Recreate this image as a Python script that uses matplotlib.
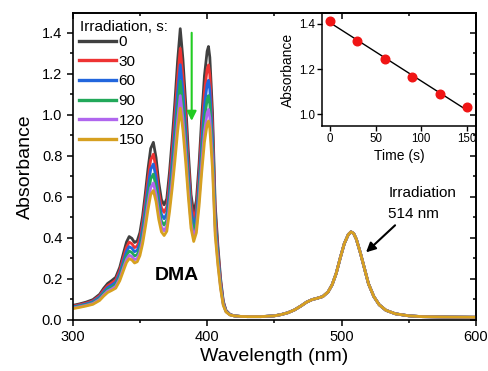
import numpy as np
import matplotlib
matplotlib.use('Agg')
import matplotlib.pyplot as plt
from matplotlib.ticker import MultipleLocator

plt.rcParams['font.family'] = ['Liberation Sans', 'DejaVu Sans']

# ---------------- data ----------------
# DMA band region (varies with irradiation time)
wl_dma = [300, 305, 310, 315, 320, 323, 326, 329, 332, 335, 338, 340, 342, 344, 346,
          348, 350, 352, 354, 356, 358, 360, 362, 364, 366, 368, 370, 372, 374, 376,
          378, 380, 382, 384, 386, 388, 390, 392, 394, 396, 398, 400, 401, 402, 404,
          406, 408, 410, 412, 414, 417, 420]

abs_0s = [0.069, 0.076, 0.085, 0.097, 0.123, 0.152, 0.176, 0.190, 0.206, 0.255, 0.330,
          0.378, 0.405, 0.396, 0.376, 0.384, 0.425, 0.505, 0.615, 0.735, 0.835, 0.865,
          0.790, 0.670, 0.585, 0.560, 0.590, 0.720, 0.880, 1.060, 1.260, 1.420, 1.270,
          1.060, 0.820, 0.610, 0.520, 0.580, 0.760, 0.990, 1.190, 1.310, 1.333, 1.280,
          1.010, 0.560, 0.360, 0.200, 0.090, 0.045, 0.025, 0.018]
abs_30s = [0.065, 0.072, 0.080, 0.091, 0.116, 0.143, 0.165, 0.178, 0.193, 0.239, 0.309,
           0.353, 0.378, 0.370, 0.351, 0.359, 0.397, 0.472, 0.574, 0.686, 0.779, 0.807,
           0.737, 0.625, 0.546, 0.523, 0.551, 0.672, 0.821, 0.989, 1.175, 1.324, 1.185,
           0.989, 0.765, 0.570, 0.486, 0.542, 0.709, 0.924, 1.110, 1.222, 1.243, 1.194,
           0.942, 0.523, 0.337, 0.187, 0.085, 0.043, 0.024, 0.018]
abs_60s = [0.062, 0.068, 0.076, 0.087, 0.110, 0.135, 0.156, 0.168, 0.182, 0.225, 0.291,
           0.333, 0.356, 0.348, 0.331, 0.338, 0.374, 0.444, 0.540, 0.645, 0.733, 0.759,
           0.693, 0.588, 0.514, 0.492, 0.518, 0.632, 0.772, 0.929, 1.104, 1.244, 1.113,
           0.929, 0.719, 0.536, 0.457, 0.509, 0.667, 0.868, 1.043, 1.148, 1.168, 1.122,
           0.886, 0.492, 0.317, 0.177, 0.081, 0.041, 0.024, 0.018]
abs_90s = [0.059, 0.065, 0.072, 0.082, 0.103, 0.127, 0.147, 0.158, 0.171, 0.211, 0.273,
           0.312, 0.334, 0.327, 0.310, 0.317, 0.350, 0.416, 0.506, 0.604, 0.686, 0.710,
           0.649, 0.551, 0.481, 0.461, 0.485, 0.592, 0.723, 0.870, 1.033, 1.164, 1.042,
           0.870, 0.674, 0.502, 0.428, 0.477, 0.624, 0.813, 0.976, 1.074, 1.093, 1.050,
           0.829, 0.461, 0.297, 0.166, 0.076, 0.040, 0.023, 0.018]
abs_120s = [0.056, 0.062, 0.069, 0.078, 0.098, 0.120, 0.139, 0.149, 0.162, 0.199, 0.257,
            0.293, 0.314, 0.307, 0.292, 0.298, 0.329, 0.391, 0.475, 0.567, 0.644, 0.667,
            0.609, 0.517, 0.452, 0.433, 0.456, 0.556, 0.678, 0.816, 0.970, 1.093, 0.978,
            0.816, 0.632, 0.471, 0.402, 0.448, 0.586, 0.763, 0.916, 1.008, 1.026, 0.985,
            0.778, 0.433, 0.280, 0.157, 0.073, 0.038, 0.023, 0.018]
abs_150s = [0.053, 0.059, 0.066, 0.074, 0.093, 0.114, 0.132, 0.142, 0.153, 0.189, 0.243,
            0.278, 0.297, 0.291, 0.276, 0.282, 0.312, 0.370, 0.449, 0.536, 0.609, 0.630,
            0.576, 0.489, 0.428, 0.410, 0.431, 0.525, 0.641, 0.772, 0.916, 1.032, 0.924,
            0.772, 0.598, 0.446, 0.381, 0.424, 0.554, 0.721, 0.866, 0.953, 0.969, 0.931,
            0.735, 0.410, 0.265, 0.149, 0.069, 0.037, 0.022, 0.018]

# photosensitizer band region (unchanged by irradiation)
wl_tail = [425, 430, 440, 450, 455, 460, 465, 470, 474, 478, 482, 486, 490, 493, 496,
           499, 502, 505, 507, 509, 511, 514, 517, 520, 524, 528, 533, 540, 550, 560,
           580, 600]
abs_tail = [0.015, 0.014, 0.014, 0.018, 0.024, 0.033, 0.047, 0.067, 0.085, 0.097, 0.104,
            0.112, 0.135, 0.170, 0.225, 0.300, 0.370, 0.415, 0.428, 0.420, 0.392, 0.325,
            0.250, 0.175, 0.112, 0.072, 0.045, 0.028, 0.018, 0.014, 0.012, 0.011]

series_labels = ['0', '30', '60', '90', '120', '150']
series_values = [abs_0s, abs_30s, abs_60s, abs_90s, abs_120s, abs_150s]
series_colors = ['#404040', '#ee3333', '#2266dd', '#22a85a', '#b066ee', '#d6a020']

# inset: absorbance at 380 nm vs time
inset_time = [0, 30, 60, 90, 120, 150]
inset_abs = [1.415, 1.325, 1.245, 1.165, 1.090, 1.030]

# ---------------- figure ----------------
fig = plt.figure(figsize=(4.89, 3.71), dpi=100)
ax = fig.add_axes([0.1487, 0.1388, 0.8247, 0.8253])

for lab, vals, col in zip(series_labels, series_values, series_colors):
    ax.plot(wl_dma + wl_tail, vals + abs_tail, color=col, lw=2.0, label=lab,
            solid_joinstyle='round')

ax.set_xlim(300, 600)
ax.set_ylim(0, 1.495)
ax.xaxis.set_major_locator(MultipleLocator(100))
ax.xaxis.set_minor_locator(MultipleLocator(50))
ax.yaxis.set_major_locator(MultipleLocator(0.2))
ax.yaxis.set_minor_locator(MultipleLocator(0.1))
ax.tick_params(which='both', direction='out', width=1.1, labelsize=10.5, pad=3)
ax.tick_params(which='major', length=4.5)
ax.tick_params(which='minor', length=2.5)
for s in ax.spines.values():
    s.set_linewidth(1.2)

# mirrored inward ticks on top/right
top = ax.secondary_xaxis('top')
top.xaxis.set_major_locator(MultipleLocator(100))
top.xaxis.set_minor_locator(MultipleLocator(50))
top.tick_params(which='both', direction='in', labeltop=False, width=1.1)
top.tick_params(which='major', length=4.5)
top.tick_params(which='minor', length=2.5)
top.spines['top'].set_linewidth(1.2)
right = ax.secondary_yaxis('right')
right.yaxis.set_major_locator(MultipleLocator(0.2))
right.yaxis.set_minor_locator(MultipleLocator(0.1))
right.tick_params(which='both', direction='in', labelright=False, width=1.1)
right.tick_params(which='major', length=4.5)
right.tick_params(which='minor', length=2.5)
right.spines['right'].set_linewidth(1.2)

ax.set_xlabel('Wavelength (nm)', fontsize=14, labelpad=3)
ax.set_ylabel('Absorbance', fontsize=14, labelpad=6)

ax.text(0.0185, 0.955, 'Irradiation, s:', transform=ax.transAxes, fontsize=11,
        ha='left', va='center')
leg = ax.legend(loc='upper left', bbox_to_anchor=(0.0156, 0.929),
                frameon=False, fontsize=11, handlelength=2.4,
                handletextpad=0.2, labelspacing=0.37, borderpad=0, borderaxespad=0)
for h in leg.legend_handles:
    h.set_linewidth(2.4)

ax.annotate('', xy=(388.5, 0.97), xytext=(388.5, 1.40),
            arrowprops=dict(arrowstyle='-|>', color='#22cc22', lw=1.5,
                            mutation_scale=14, shrinkA=0, shrinkB=0))
ax.annotate('', xy=(518.2, 0.328), xytext=(539.8, 0.46),
            arrowprops=dict(arrowstyle='-|>', color='black', lw=1.5,
                            mutation_scale=14, shrinkA=0, shrinkB=0))
ax.text(534.8, 0.599, 'Irradiation', fontsize=11, ha='left', va='baseline')
ax.text(534.8, 0.494, '514 nm', fontsize=11, ha='left', va='baseline')
ax.text(361.2, 0.191, 'DMA', fontsize=14, fontweight='bold', ha='left', va='baseline')

# ---------------- inset ----------------
ins = fig.add_axes([0.6585, 0.6604, 0.3149, 0.3038])
ins.set_facecolor('none')
slope, intercept = np.polyfit(inset_time, inset_abs, 1)
fit_x = np.array([inset_time[0], inset_time[-1]])
ins.plot(fit_x, slope * fit_x + intercept, color='black', lw=1.0)
ins.plot(inset_time, inset_abs, 'o', color='#f01515', ms=6.2, mec='#f01515')
ins.set_xlim(-8.8, 160)
ins.set_ylim(0.948, 1.447)
ins.set_xticks([0, 50, 100, 150])
ins.set_yticks([1.0, 1.2, 1.4])
ins.tick_params(direction='out', length=3.5, width=1, labelsize=8.3, pad=1.5)
for s in ins.spines.values():
    s.set_linewidth(1.1)
ins.set_xlabel('Time (s)', fontsize=10, labelpad=3)
ins.set_ylabel('Absorbance', fontsize=10, labelpad=3)

fig.savefig('out.png', dpi=100)
